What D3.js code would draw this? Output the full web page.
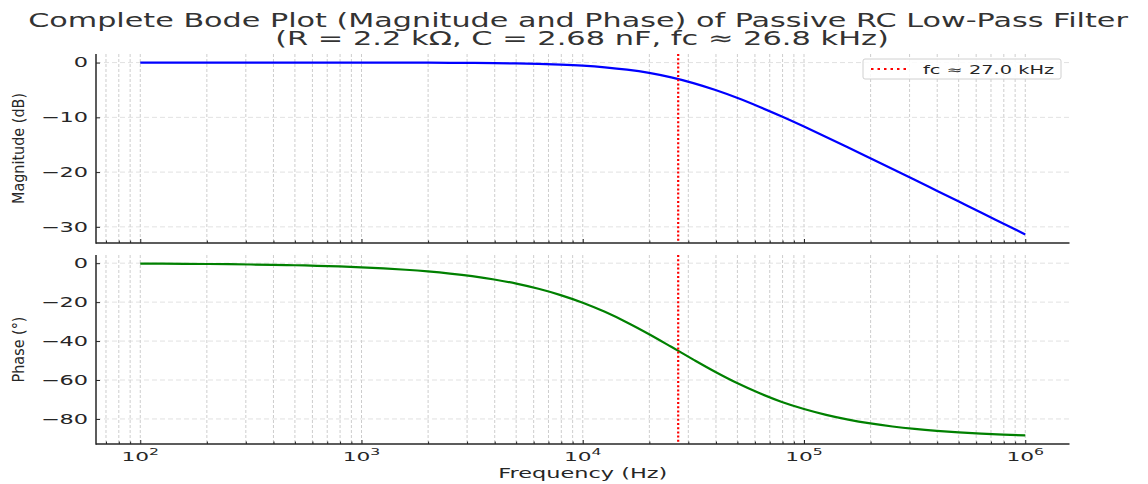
<!DOCTYPE html>
<html>
<head>
<meta charset="utf-8">
<script src="https://cdn.jsdelivr.net/npm/d3@7"></script>
<style>
  body { margin: 0; background: #fff; }
  svg { display: block; }
</style>
</head>
<body>
<svg id="chart" width="1148" height="484"></svg>
<script>
// frequencies (Hz), every tenth of a decade
const freqs = [100, 125.9, 158.5, 199.5, 251.2, 316.2, 398.1, 501.2, 631, 794.3,
  1000, 1259, 1585, 1995, 2512, 3162, 3981, 5012, 6310, 7943,
  10000, 12589, 15849, 19953, 25119, 31623, 39811, 50119, 63096, 79433,
  100000, 125893, 158489, 199526, 251189, 316228, 398107, 501187, 630957, 794328,
  1000000];

const magnitude = [0.00, 0.00, 0.00, 0.00, 0.00, 0.00, 0.00, 0.00, 0.00, 0.00,
  -0.01, -0.01, -0.01, -0.02, -0.04, -0.06, -0.09, -0.15, -0.23, -0.36,
  -0.56, -0.86, -1.29, -1.89, -2.71, -3.75, -5.02, -6.48, -8.11, -9.85,
  -11.68, -13.57, -15.50, -17.46, -19.43, -21.41, -23.40, -25.39, -27.38, -29.38,
  -31.38];

const phase = [-0.21, -0.27, -0.34, -0.42, -0.53, -0.67, -0.85, -1.06, -1.34, -1.69,
  -2.12, -2.67, -3.36, -4.23, -5.32, -6.68, -8.39, -10.52, -13.16, -16.40,
  -20.33, -25.00, -30.44, -36.48, -42.95, -49.52, -55.87, -61.70, -66.84, -71.28,
  -74.90, -77.90, -80.34, -82.30, -83.87, -85.12, -86.12, -86.92, -87.55, -88.05,
  -88.45];

const fcHz = 27000;
const legendLabel = "fc \u2248 27.0 kHz";
const titleLines = ["Complete Bode Plot (Magnitude and Phase) of Passive RC Low-Pass Filter",
  "(R = 2.2 k\u03a9, C = 2.68 nF, fc \u2248 26.8 kHz)"];
const xLabel = "Frequency (Hz)";
const yLabels = ["Magnitude (dB)", "Phase (\u00b0)"];

const SX = 1.7;            // the picture is stretched sideways
const FONT = "DejaVu Sans, sans-serif";
const INK = "#262626";

const svg = d3.select("#chart");

const x = d3.scaleLog()
  .domain([Math.pow(10, 1.8), Math.pow(10, 6.2)])
  .range([96, 1069.5]);

// matplotlib style 5% margins
function padded(vals) {
  const [lo, hi] = d3.extent(vals);
  const m = (hi - lo) * 0.05;
  return [lo - m, hi + m];
}

const panels = [
  {values: magnitude, color: "#0000ff", top: 54, bottom: 243, nticks: 4, label: yLabels[0], labels: false},
  {values: phase, color: "#008000", top: 255, bottom: 444, nticks: 5, label: yLabels[1], labels: true}
];

const allTicks = x.ticks();
const majors = allTicks.filter(t => Math.abs(Math.log10(t) - Math.round(Math.log10(t))) < 1e-9);
const minors = allTicks.filter(t => !majors.includes(t));

panels.forEach(p => {
  const y = d3.scaleLinear().domain(padded(p.values)).range([p.bottom, p.top]);
  const g = svg.append("g");

  // grid
  g.selectAll(".vgrid")
    .data(allTicks)
    .enter().append("line")
      .attr("x1", d => x(d)).attr("x2", d => x(d))
      .attr("y1", p.top).attr("y2", p.bottom)
      .attr("stroke", "#b8b8b8")
      .attr("stroke-width", 0.7)
      .attr("stroke-dasharray", "3,2");
  g.selectAll(".hgrid")
    .data(y.ticks(p.nticks))
    .enter().append("line")
      .attr("x1", x.range()[0]).attr("x2", x.range()[1])
      .attr("y1", d => y(d)).attr("y2", d => y(d))
      .attr("stroke", "#d4d4d4")
      .attr("stroke-width", 0.7)
      .attr("stroke-dasharray", "5,3");

  // curve
  const line = d3.line()
    .x((d, i) => x(freqs[i]))
    .y(d => y(d))
    .curve(d3.curveMonotoneX);
  g.append("path")
    .attr("d", line(p.values))
    .attr("fill", "none")
    .attr("stroke", p.color)
    .attr("stroke-width", 2.2);

  // cutoff marker
  g.append("line")
    .attr("x1", x(fcHz)).attr("x2", x(fcHz))
    .attr("y1", p.top).attr("y2", p.bottom)
    .attr("stroke", "#ff0000")
    .attr("stroke-width", 2.2)
    .attr("stroke-dasharray", "2,2.2");

  // y axis
  const yAxis = g.append("g")
    .attr("transform", `translate(${x.range()[0]},0)`)
    .call(d3.axisLeft(y).ticks(p.nticks).tickSizeInner(-4).tickSizeOuter(0).tickPadding(8));
  yAxis.select(".domain").remove();
  yAxis.selectAll("line").attr("stroke", INK).attr("stroke-width", 1);
  yAxis.selectAll("text")
    .attr("x", -8 / SX)
    .attr("transform", `scale(${SX},1)`)
    .attr("fill", INK)
    .style("font-family", FONT)
    .style("font-size", "13.2px");

  // x ticks (inward)
  const xMajor = g.append("g")
    .attr("transform", `translate(0,${p.bottom})`)
    .call(d3.axisBottom(x).tickValues(majors).tickSizeInner(-4).tickSizeOuter(0).tickFormat(""));
  const xMinor = g.append("g")
    .attr("transform", `translate(0,${p.bottom})`)
    .call(d3.axisBottom(x).tickValues(minors).tickSizeInner(-2.5).tickSizeOuter(0).tickFormat(""));
  [xMajor, xMinor].forEach(a => {
    a.select(".domain").remove();
    a.selectAll("line").attr("stroke", INK).attr("stroke-width", 1);
  });

  if (p.labels) {
    const lab = g.selectAll(".xlab")
      .data(majors)
      .enter().append("text")
        .attr("transform", d => `translate(${x(d)},${p.bottom + 17}) scale(${SX},1)`)
        .attr("text-anchor", "middle")
        .attr("fill", INK)
        .style("font-family", FONT)
        .style("font-size", "12.8px");
    lab.append("tspan").text("10");
    lab.append("tspan")
      .attr("dy", -6)
      .style("font-size", "9.2px")
      .text(d => Math.round(Math.log10(d)));
  }

  // spines: left and bottom
  g.append("line")
    .attr("x1", x.range()[0]).attr("x2", x.range()[0])
    .attr("y1", p.top).attr("y2", p.bottom + 0.7)
    .attr("stroke", INK).attr("stroke-width", 1.5);
  g.append("line")
    .attr("x1", x.range()[0]).attr("x2", x.range()[1])
    .attr("y1", p.bottom).attr("y2", p.bottom)
    .attr("stroke", INK).attr("stroke-width", 1.5);

  // y label
  g.append("text")
    .attr("transform", `translate(24,${(p.top + p.bottom) / 2}) scale(1.15,1) rotate(-90)`)
    .attr("text-anchor", "middle")
    .attr("fill", INK)
    .style("font-family", FONT)
    .style("font-size", "14.4px")
    .text(p.label);
});

// x label
svg.append("text")
  .attr("transform", `translate(${(x.range()[0] + x.range()[1]) / 2},478) scale(${SX},1)`)
  .attr("text-anchor", "middle")
  .attr("fill", INK)
  .style("font-family", FONT)
  .style("font-size", "13.2px")
  .text(xLabel);

// title: two centred lines, squeezed to the widths seen in the picture
const titleBox = [{cx: 578, base: 27, width: 1100}, {cx: 582, base: 45, width: 614}];
svg.selectAll(".title")
  .data(titleLines)
  .enter().append("text")
    .attr("text-anchor", "middle")
    .attr("fill", "#333")
    .style("font-family", FONT)
    .style("font-size", "19.5px")
    .text(d => d)
    .each(function(d, i) {
      const w = this.getComputedTextLength();
      const b = titleBox[i];
      d3.select(this).attr("transform", `translate(${b.cx},${b.base}) scale(${b.width / w},1)`);
    });

// legend
const leg = svg.append("g").attr("transform", "translate(863,59)");
leg.append("rect")
  .attr("width", 198).attr("height", 20).attr("rx", 2)
  .attr("fill", "#fff").attr("fill-opacity", 0.85)
  .attr("stroke", "#d0d0d0").attr("stroke-width", 1);
leg.append("line")
  .attr("x1", 8).attr("x2", 47).attr("y1", 10).attr("y2", 10)
  .attr("stroke", "#ff0000").attr("stroke-width", 2)
  .attr("stroke-dasharray", "2.5,4");
leg.append("text")
  .attr("transform", `translate(60,14.5) scale(${SX},1)`)
  .attr("fill", INK)
  .style("font-family", FONT)
  .style("font-size", "11.4px")
  .text(legendLabel);
</script>
</body>
</html>
